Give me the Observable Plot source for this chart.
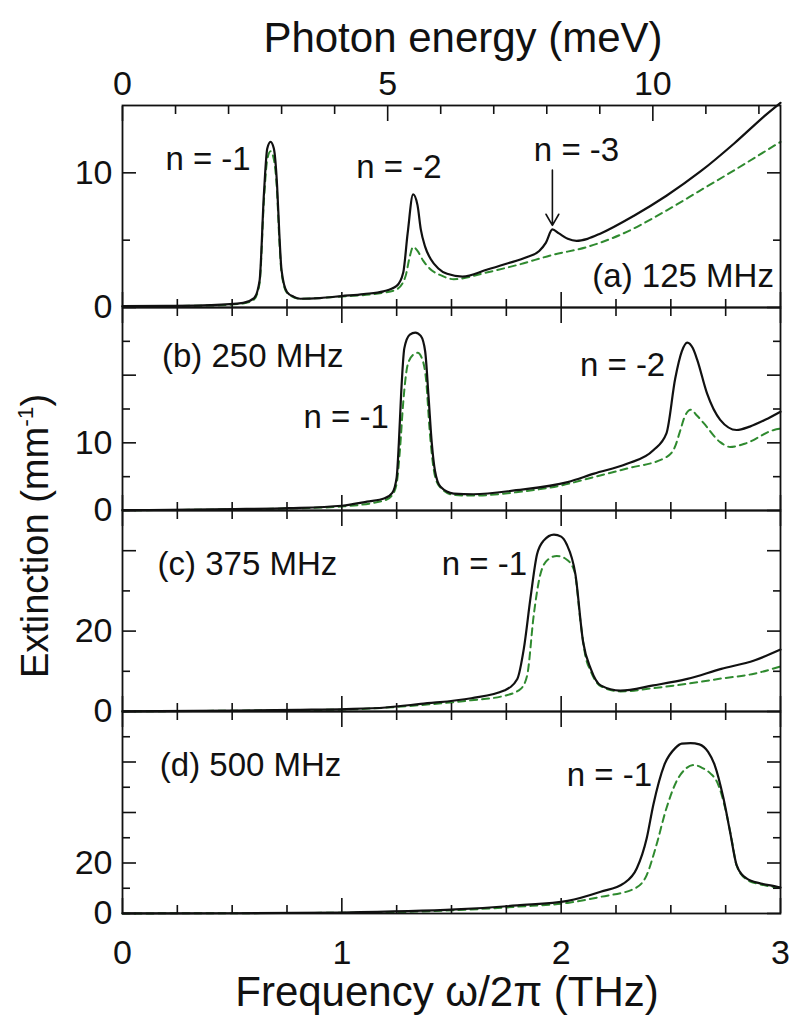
<!DOCTYPE html>
<html><head><meta charset="utf-8">
<script src="https://cdn.jsdelivr.net/npm/d3@7"></script>
<script src="https://cdn.jsdelivr.net/npm/@observablehq/plot@0.6"></script>
<style>
body{margin:0;background:#fff;}
#wrap{position:relative;width:800px;height:1027px;overflow:hidden;font-family:"Liberation Sans",Arial,sans-serif;color:#111;}
#wrap svg{position:absolute;left:0;}
.ttl{position:absolute;font-size:42px;white-space:nowrap;line-height:1;}
</style></head><body><div id="wrap"></div>
<script>
// ---------- data ----------
const MEV_PER_THZ = 4.1357;
const meVMajor = [0, 5, 10];
const meVMinor = [1, 2, 3, 4, 6, 7, 8, 9, 11, 12];
const thzMajor = [0, 1, 2, 3];
const thzMinor = [0.25, 0.5, 0.75, 1.25, 1.5, 1.75, 2.25, 2.5, 2.75];

// Panel (a) 125 MHz
const aSolidF = [0,0.2,0.4,0.55,0.6,0.625,0.645,0.66,0.675,0.69,0.705,0.715,0.725,0.75,0.78,0.81,0.9,1.0,1.1,1.19,1.25,1.28,1.3,1.325,1.345,1.36,1.38,1.405,1.44,1.48,1.55,1.66,1.75,1.845,1.9,1.93,1.96,1.99,2.03,2.07,2.12,2.18,2.33,2.48,2.635,2.79,2.94,3.0];
const aSolidV = [0.1,0.12,0.18,0.35,0.7,2.0,8.5,11.8,12.3,11.8,9.0,5.5,2.8,1.15,0.8,0.65,0.7,0.85,1.0,1.2,1.6,2.6,5.5,8.4,7.6,5.8,4.5,3.6,2.9,2.5,2.3,2.8,3.25,3.75,4.2,4.8,5.8,5.5,5.1,4.95,5.1,5.5,6.8,8.3,10.1,12.2,14.4,15.2];
const aDashF = [0,0.4,0.55,0.6,0.625,0.645,0.66,0.675,0.69,0.705,0.715,0.725,0.75,0.81,1.0,1.19,1.25,1.29,1.31,1.325,1.345,1.37,1.4,1.45,1.51,1.66,1.81,1.96,2.12,2.27,2.48,2.635,2.79,2.94,3.0];
const aDashV = [0.08,0.15,0.3,0.6,1.8,8.0,11.0,11.6,11.0,8.5,5.0,2.6,1.1,0.65,0.82,1.1,1.35,2.3,3.8,4.5,4.2,3.5,2.9,2.4,2.1,2.6,3.2,3.9,4.5,5.4,7.2,8.7,10.2,11.7,12.3];

// Panel (b) 250 MHz
const bSolidF = [0,0.5,0.76,1.0,1.115,1.195,1.23,1.25,1.26,1.27,1.285,1.31,1.335,1.36,1.38,1.395,1.41,1.425,1.45,1.51,1.6,1.795,2.03,2.15,2.3,2.42,2.48,2.52,2.55,2.575,2.6,2.62,2.665,2.725,2.8,2.86,2.93,3.0];
const bSolidV = [0.05,0.2,0.35,0.7,1.3,1.8,2.6,4.9,10,17,24,26.0,26.3,25.8,23.5,17,10,5.8,3.5,2.5,2.4,3.0,4.2,5.45,6.9,8.9,11.4,19.5,23.5,24.8,24.0,22.3,17.3,13.4,11.9,12.4,13.4,14.6];
const bDashF = [0,0.76,1.0,1.195,1.23,1.25,1.265,1.28,1.3,1.325,1.345,1.365,1.385,1.4,1.415,1.44,1.51,1.6,1.795,2.0,2.15,2.3,2.48,2.52,2.54,2.565,2.59,2.62,2.65,2.725,2.77,2.84,2.97,3.0];
const bDashV = [0.03,0.3,0.6,1.5,2.3,4,9,16,21.5,23.0,23.3,22.5,19,12,7,3.8,2.3,2.2,2.7,3.7,4.95,6.2,7.9,9.5,11.5,14,14.9,14.0,12.9,10.1,9.4,9.9,11.9,12.1];

// Panel (c) 375 MHz
const cSolidF = [0,0.5,0.8,1.02,1.2,1.36,1.59,1.74,1.8,1.83,1.86,1.89,1.92,1.967,2.0,2.025,2.065,2.1,2.135,2.18,2.27,2.42,2.575,2.73,2.88,3.0];
const cSolidV = [0.05,0.2,0.4,0.6,1.0,1.9,3.3,5.2,8.1,15.7,28.2,39.1,42.5,44.0,43.5,41.6,34.1,17.3,10.6,6.5,5.2,6.5,8.1,10.6,12.7,15.4];
const cDashF = [0,0.8,1.02,1.36,1.59,1.74,1.815,1.845,1.875,1.905,1.94,1.98,2.02,2.06,2.09,2.11,2.135,2.18,2.27,2.42,2.575,2.73,2.88,3.0];
const cDashV = [0.03,0.35,0.5,1.6,2.8,3.9,5.6,9.0,24.0,34.1,37.8,38.7,38.0,35.0,21.5,14,10.0,6.3,5.0,5.8,6.9,8.2,9.4,11.2];

// Panel (d) 500 MHz
const dSolidF = [0,0.5,1.0,1.52,1.8,2.03,2.18,2.285,2.345,2.39,2.42,2.47,2.52,2.55,2.59,2.63,2.67,2.7,2.74,2.77,2.8,2.845,2.91,2.985,3.0];
const dSolidV = [0.05,0.1,0.4,1.6,3.2,5.0,8.6,11.9,17.9,29.8,43,58.8,65.5,67.3,67.5,67.0,64,58.8,45.6,32.4,19.2,13.9,11.9,10.6,10.3];
const dDashF = [0,1.0,1.52,1.8,2.03,2.18,2.335,2.39,2.43,2.48,2.525,2.57,2.605,2.64,2.68,2.71,2.755,2.78,2.8,2.845,2.91,3.0];
const dDashV = [0.03,0.3,1.3,2.7,4.2,6.6,9.9,15.2,25.8,41.7,52.2,57.5,58.8,57.8,55.5,52.2,39,28,19,13.5,11.5,10.2];

// annotations
const aNotes = [{x:0.39,y:11.0,t:"n = -1",a:"middle"},{x:1.26,y:10.4,t:"n = -2",a:"middle"},{x:2.07,y:11.7,t:"n = -3",a:"middle"},{x:2.97,y:2.3,t:"(a) 125 MHz",a:"end"}];
const aArrow = [{x:1.96,from:10.2,to:6.1}];
const bNotes = [{x:0.18,y:22.7,t:"(b) 250 MHz",a:"start"},{x:1.02,y:13.7,t:"n = -1",a:"middle"},{x:2.28,y:21.5,t:"n = -2",a:"middle"}];
const cNotes = [{x:0.16,y:36.6,t:"(c) 375 MHz",a:"start"},{x:1.65,y:36.6,t:"n = -1",a:"middle"}];
const dNotes = [{x:0.17,y:58.5,t:"(d) 500 MHz",a:"start"},{x:2.22,y:54.5,t:"n = -1",a:"middle"}];

// ---------- drawing ----------
const pts = (F, V) => F.map((f, i) => ({f, v: V[i]}));
const INK = "#111", GREEN = "#2f8a2f";
const STYLE = "background:transparent;overflow:visible;font-family:'Liberation Sans',Arial,sans-serif;font-size:34px;color:#111;";
const blank = () => "";

function panel(o) {
  const marks = [
    Plot.line(pts(o.dF, o.dV), {x: "f", y: "v", stroke: GREEN, strokeWidth: 2, strokeDasharray: "7,5", curve: "monotone-x"}),
    Plot.line(pts(o.sF, o.sV), {x: "f", y: "v", stroke: INK, strokeWidth: 2.2, curve: "monotone-x"}),
    Plot.frame({stroke: INK, strokeWidth: 1.8}),
    Plot.axisY(o.yMajor, {anchor: "left", tickSize: -14, tickFormat: blank, label: null, strokeWidth: 1.6}),
    Plot.axisY(o.yMinor, {anchor: "left", tickSize: -8, tickFormat: blank, label: null, strokeWidth: 1.6}),
    Plot.axisY(o.yMajor, {anchor: "right", tickSize: -14, tickFormat: blank, label: null, strokeWidth: 1.6}),
    Plot.axisY(o.yMinor, {anchor: "right", tickSize: -8, tickFormat: blank, label: null, strokeWidth: 1.6}),
    Plot.axisY(o.yLabels, {anchor: "left", tickSize: 0, tickPadding: 10, label: null, fontSize: 34, tickFormat: d => String(d)}),
    Plot.axisX(thzMajor, {anchor: "bottom", tickSize: -15, tickFormat: blank, label: null, strokeWidth: 1.6}),
    Plot.axisX(thzMinor, {anchor: "bottom", tickSize: -8, tickFormat: blank, label: null, strokeWidth: 1.6})
  ];
  for (const anchor of ["start", "middle", "end"]) {
    marks.push(Plot.text(o.notes.filter(d => d.a === anchor), {x: "x", y: "y", text: "t", textAnchor: anchor, fontSize: 33, fill: INK}));
  }
  if (o.meVTop) {
    marks.push(
      Plot.axisX(meVMajor.map(m => m / MEV_PER_THZ), {anchor: "top", tickSize: -15, tickFormat: blank, label: null, strokeWidth: 1.6}),
      Plot.axisX(meVMinor.map(m => m / MEV_PER_THZ), {anchor: "top", tickSize: -8, tickFormat: blank, label: null, strokeWidth: 1.6}),
      Plot.axisX(meVMajor.map(m => m / MEV_PER_THZ), {anchor: "top", tickSize: 0, tickPadding: 11, label: null, fontSize: 34,
        tickFormat: d => String(Math.round(d * MEV_PER_THZ))})
    );
  } else {
    marks.push(
      Plot.axisX(thzMajor, {anchor: "top", tickSize: -15, tickFormat: blank, label: null, strokeWidth: 1.6}),
      Plot.axisX(thzMinor, {anchor: "top", tickSize: -8, tickFormat: blank, label: null, strokeWidth: 1.6})
    );
  }
  if (o.bottomLabels) {
    marks.push(Plot.axisX(thzMajor, {anchor: "bottom", tickSize: 0, tickPadding: 26, label: null, fontSize: 34, tickFormat: d => String(d)}));
  }
  if (o.arrows) {
    marks.push(Plot.arrow(o.arrows, {x1: "x", x2: "x", y1: "from", y2: "to", stroke: INK, strokeWidth: 1.6, headLength: 12}));
  }
  const svg = Plot.plot({
    width: 800, height: o.height,
    marginLeft: 122, marginRight: 20, marginTop: o.mt || 0, marginBottom: o.mb || 0,
    x: {domain: [0, 3]},
    y: {domain: [0, o.yMax]},
    style: STYLE,
    marks
  });
  svg.style.top = o.top + "px";
  return svg;
}

const wrap = document.getElementById("wrap");
wrap.append(
  panel({top: 0, height: 307, mt: 105, yMax: 15, yMajor: [0, 10], yMinor: [5], yLabels: [0, 10],
    sF: aSolidF, sV: aSolidV, dF: aDashF, dV: aDashV, notes: aNotes, arrows: aArrow, meVTop: true}),
  panel({top: 307, height: 203, yMax: 30, yMajor: [0, 10, 20], yMinor: [5, 15, 25], yLabels: [0, 10],
    sF: bSolidF, sV: bSolidV, dF: bDashF, dV: bDashV, notes: bNotes}),
  panel({top: 510, height: 201, yMax: 50, yMajor: [0, 20, 40], yMinor: [10, 30], yLabels: [0, 20],
    sF: cSolidF, sV: cSolidV, dF: cDashF, dV: cDashV, notes: cNotes}),
  panel({top: 711, height: 316, mb: 114, yMax: 80, yMajor: [0, 20, 40, 60], yMinor: [10, 30, 50, 70], yLabels: [0, 20],
    sF: dSolidF, sV: dSolidV, dF: dDashF, dV: dDashV, notes: dNotes, bottomLabels: true})
);

function title(text, x, y, rot, size) {
  const d = document.createElement("div");
  d.className = "ttl";
  d.innerHTML = text;
  d.style.left = x + "px";
  d.style.top = y + "px";
  if (size) d.style.fontSize = size + "px";
  d.style.transform = "translate(-50%,-50%)" + (rot ? " rotate(-90deg)" : "");
  wrap.append(d);
}
title("Photon energy (meV)", 463, 38);
title("Frequency ω/2π (THz)", 447, 992);
title("Extinction (mm<sup style='font-size:0.6em;vertical-align:0.7em'>-1</sup>)", 34, 536, true, 38);
</script></body></html>
